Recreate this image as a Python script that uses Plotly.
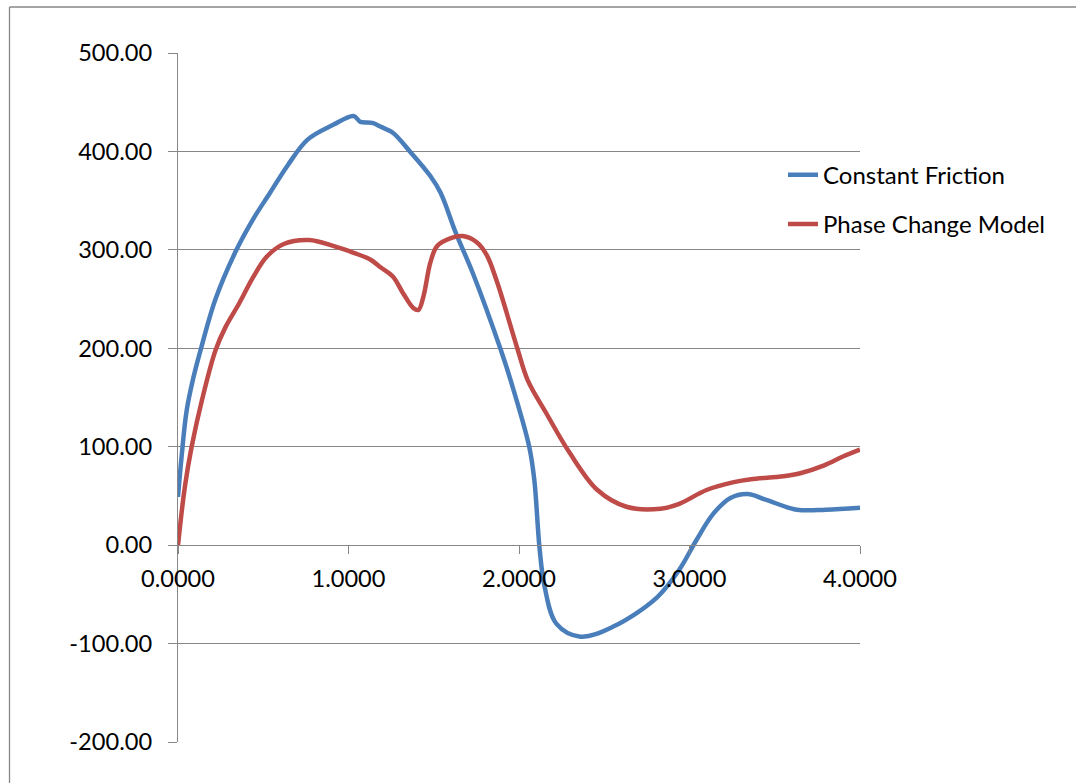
import plotly.graph_objects as go

# Constant Friction series
cf_x = [0.0, 0.02, 0.05, 0.09, 0.14, 0.22, 0.34, 0.44, 0.54, 0.64, 0.76, 0.91,
        1.03, 1.07, 1.14, 1.19, 1.26, 1.36, 1.48, 1.54, 1.63, 1.73, 1.89, 1.95, 2.06, 2.09,
        2.12, 2.15, 2.22, 2.36, 2.55, 2.81, 2.94, 3.04, 3.14, 3.24, 3.34, 3.45, 3.63, 3.80, 4.0]
cf_y = [49, 88, 136, 170, 203, 250, 299, 331, 358, 385, 412, 427,
        436, 430, 429, 425, 419, 400, 375, 358, 317, 276, 200, 168, 100, 66,
        -2, -42, -80, -93, -83, -53, -25, 5, 32, 48, 52, 46, 36, 36, 38]

# Phase Change Model series
pc_x = [0.0, 0.04, 0.08, 0.14, 0.22, 0.28, 0.36, 0.44, 0.52, 0.62, 0.77, 0.91, 1.03, 1.13, 1.19,
        1.26, 1.32, 1.38, 1.41, 1.44, 1.48, 1.52, 1.60, 1.67, 1.75, 1.81, 1.87, 1.99, 2.05, 2.16,
        2.30, 2.46, 2.63, 2.83, 2.94, 3.10, 3.26, 3.36, 3.55, 3.65, 3.79, 3.90, 4.0]
pc_y = [0, 59, 100, 147, 198, 222, 246, 272, 293, 306, 310, 304, 297, 290, 282,
        273, 256, 241, 239, 253, 287, 304, 312, 314, 308, 295, 268, 200, 168, 134,
        93, 56, 39, 37, 42, 56, 64, 67, 70, 73, 81, 90, 97]

x_ticks = [0, 1, 2, 3, 4]
x_labels = ["0.0000", "1.0000", "2.0000", "3.0000", "4.0000"]
y_ticks = [-200, -100, 0, 100, 200, 300, 400, 500]
y_labels = ["-200.00", "-100.00", "0.00", "100.00", "200.00", "300.00", "400.00", "500.00"]

GRID = "#878787"
FONT = "Lato"
TICK_SIZE = 23.6
LEG_SIZE = 24

fig = go.Figure()
fig.add_trace(go.Scatter(x=cf_x, y=cf_y, mode="lines", name="Constant Friction",
                         legendgroup="a",
                         line=dict(color="#4A7EBB", width=4.5, shape="spline", smoothing=1.0)))
fig.add_trace(go.Scatter(x=pc_x, y=pc_y, mode="lines", name="Phase Change Model",
                         legendgroup="b",
                         line=dict(color="#BE4B48", width=4.5, shape="spline", smoothing=1.0)))

# outer chart frame (cropped at right and bottom)
W, H = 682.0, 689.0
def px(xp):
    return (xp - 178) / W
def py(yp):
    return (742 - yp) / H
fig.add_shape(type="line", xref="paper", yref="paper", x0=px(9.5), x1=px(9.5), y0=py(7), y1=py(800),
              line=dict(color=GRID, width=1.3), layer="below")
fig.add_shape(type="line", xref="paper", yref="paper", x0=px(9.5), x1=px(1090), y0=py(7), y1=py(7),
              line=dict(color=GRID, width=1.3), layer="below")

fig.update_layout(
    width=1076, height=783,
    margin=dict(l=178, r=216, t=53, b=41, autoexpand=False),
    paper_bgcolor="white", plot_bgcolor="white",
    font=dict(family=FONT, size=TICK_SIZE, color="black"),
    showlegend=True,
    legend=dict(x=px(783), y=py(152.7), xanchor="left", yanchor="top",
                bgcolor="rgba(0,0,0,0)", tracegroupgap=15,
                font=dict(family=FONT, size=LEG_SIZE, color="black")),
    xaxis=dict(range=[0, 4], tickvals=x_ticks, ticktext=x_labels, showgrid=False, zeroline=False,
               showline=True, linecolor=GRID, linewidth=1.3, ticks="outside", ticklen=8,
               tickcolor=GRID, tickwidth=1.3, anchor="free", position=2/7,
               ticklabelstandoff=4,
               tickfont=dict(family=FONT, size=TICK_SIZE, color="black")),
    yaxis=dict(range=[-200, 500], tickvals=y_ticks, ticktext=y_labels, showgrid=True,
               gridcolor=GRID, gridwidth=1.3, zeroline=False, showline=True, linecolor=GRID,
               linewidth=1.3, ticks="outside", ticklen=9, tickcolor=GRID, tickwidth=1.3,
               ticklabelstandoff=11,
               tickfont=dict(family=FONT, size=TICK_SIZE, color="black")),
)

fig.write_html("out.html")
